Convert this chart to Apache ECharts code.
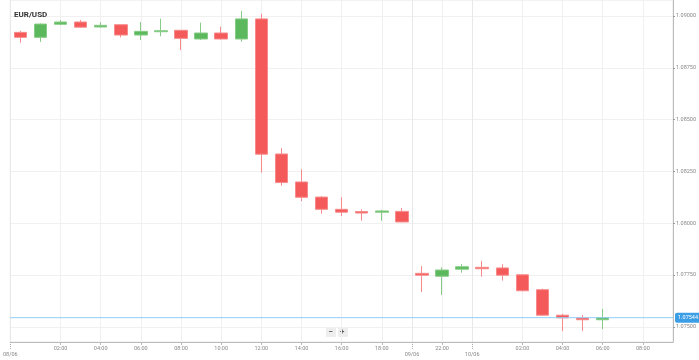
<!DOCTYPE html>
<html>
<head>
<meta charset="utf-8">
<script src="https://cdn.jsdelivr.net/npm/echarts@6/dist/echarts.min.js"></script>
<style>html,body{margin:0;padding:0;background:#fff}#c{width:699px;height:360px}</style>
</head>
<body>
<div id="c"></div>
<script>
// hourly slots shown on the axis (20:00 slot absent in the source data)
const slotHours = ['00:00','01:00','02:00','03:00','04:00','05:00','06:00','07:00','08:00','09:00',
  '10:00','11:00','12:00','13:00','14:00','15:00','16:00','17:00','18:00','19:00',
  '21:00','22:00','23:00','00:00','01:00','02:00','03:00','04:00','05:00','06:00','07:00','08:00','09:00'];
const hourTickSlots = [2,4,6,8,10,12,14,16,18,21,25,27,29,31];
const dayLabels = ['08/06','09/06','10/06'];
const dayTickSlots = [-0.5, 19.5, 22.5];
const yTicks = [1.075, 1.0775, 1.08, 1.0825, 1.085, 1.0875, 1.09];
const currentPrice = 1.07544;

const openV  = [1.08921,1.08897,1.08960,1.08971,1.08947,1.08958,1.08908,1.08924,1.08931,1.08889,
  1.08918,1.08889,1.08986,1.08334,1.08199,1.08126,1.08067,1.08056,1.08053,1.08057,
  1.07758,1.07744,1.07778,1.07787,1.07784,1.07751,1.07679,1.07556,1.07543,1.07534];
const closeV = [1.08897,1.08961,1.08971,1.08946,1.08955,1.08908,1.08926,1.08929,1.08892,1.08918,
  1.08889,1.08986,1.08333,1.08196,1.08125,1.08067,1.08053,1.08049,1.08059,1.08006,
  1.07749,1.07774,1.07790,1.07780,1.07749,1.07674,1.07556,1.07543,1.07534,1.07544];
const lowV   = [1.08871,1.08875,1.08955,1.08944,1.08944,1.08897,1.08884,1.08902,1.08836,1.08884,
  1.08887,1.08876,1.08244,1.08181,1.08107,1.08046,1.08035,1.08012,1.08012,1.08004,
  1.07668,1.07654,1.07761,1.07742,1.07723,1.07671,1.07554,1.07480,1.07480,1.07489];
const highV  = [1.08929,1.08964,1.08981,1.08981,1.08970,1.08958,1.08971,1.08987,1.08931,1.08968,
  1.08948,1.09024,1.09010,1.08362,1.08260,1.08131,1.08125,1.08067,1.08064,1.08073,
  1.07793,1.07787,1.07802,1.07818,1.07802,1.07751,1.07684,1.07562,1.07557,1.07587];

const candles = openV.map((o, i) => [i, o, closeV[i], lowV[i], highV[i]]);
const xMin = -0.5, xMax = 32.5;

const FONT = 'Roboto';
const chart = echarts.init(document.getElementById('c'), null, {renderer: 'canvas'});
chart.setOption({
  animation: false,
  backgroundColor: '#fff',
  title: {text: 'EUR/USD', left: 9, top: 6,
    textStyle: {fontSize: 8, fontWeight: 'bold', color: '#333', fontFamily: FONT}},
  grid: {left: 3, right: 26, top: 0, bottom: 18, show: true, borderColor: '#e6e6e6', borderWidth: 1},
  xAxis: [{
    type: 'value', min: xMin, max: xMax, position: 'bottom',
    axisLine: {show: true, onZero: false, lineStyle: {color: '#bbb'}},
    axisTick: {show: true, length: 3, customValues: hourTickSlots, lineStyle: {color: '#bbb'}},
    axisLabel: {customValues: hourTickSlots, formatter: v => slotHours[Math.round(v)],
      fontSize: 5.5, color: '#888', fontFamily: FONT, margin: 4},
    splitLine: {show: true, lineStyle: {color: '#f0f0f0'}}
  }, {
    type: 'value', min: xMin, max: xMax, position: 'bottom',
    axisLine: {show: false, onZero: false},
    axisTick: {show: true, length: 7, customValues: dayTickSlots, lineStyle: {color: '#aaa', type: 'dotted'}},
    axisLabel: {customValues: dayTickSlots, align: 'center', alignMinLabel: 'center', alignMaxLabel: 'center',
      formatter: v => dayLabels[dayTickSlots.findIndex(d => Math.abs(d - v) < 1e-6)],
      fontSize: 5.5, color: '#888', fontFamily: FONT, margin: 10},
    splitLine: {show: true, lineStyle: {color: '#e8e8e8'}}
  }],
  yAxis: {
    type: 'value', position: 'right', min: 1.074266, max: 1.090772, scale: true,
    axisLine: {show: true, onZero: false, lineStyle: {color: '#bbb'}},
    axisTick: {show: true, length: 2, customValues: yTicks, lineStyle: {color: '#999'}},
    axisLabel: {customValues: yTicks, formatter: v => v.toFixed(5),
      fontSize: 5.5, color: '#888', fontFamily: FONT, margin: 3},
    splitLine: {show: true, lineStyle: {color: '#f0f0f0'}}
  },
  series: [{
    type: 'line',
    xAxisIndex: 0,
    data: [[xMin, currentPrice], [xMax, currentPrice]],
    showSymbol: false, silent: true, z: 3,
    lineStyle: {color: '#92cff5', width: 1},
    endLabel: {show: true, distance: 2, formatter: () => currentPrice.toFixed(5),
      backgroundColor: '#3c9fe6', color: '#fff', fontSize: 5.5, fontFamily: FONT,
      padding: [2, 3], borderRadius: 2}
  }, {
    type: 'candlestick',
    xAxisIndex: 0,
    data: candles,
    encode: {x: 0, y: [1, 2, 3, 4]},
    barWidth: 13, z: 2,
    itemStyle: {color: '#5cb85c', color0: '#f55a5a', borderColor: '#86cc86', borderColor0: '#f78a8a', borderWidth: 1}
  }],
  graphic: [
    {type: 'rect', left: 326, top: 327, shape: {width: 10, height: 10, r: 1}, style: {fill: '#eeeeee'}},
    {type: 'text', left: 328.5, top: 327.5, style: {text: '−', fontSize: 8, fill: '#555', fontFamily: FONT, fontWeight: 'bold'}},
    {type: 'rect', left: 338, top: 327, shape: {width: 10, height: 10, r: 1}, style: {fill: '#eeeeee'}},
    {type: 'text', left: 340, top: 327.5, style: {text: '+', fontSize: 8, fill: '#555', fontFamily: FONT, fontWeight: 'bold'}}
  ]
});
</script>
</body>
</html>
